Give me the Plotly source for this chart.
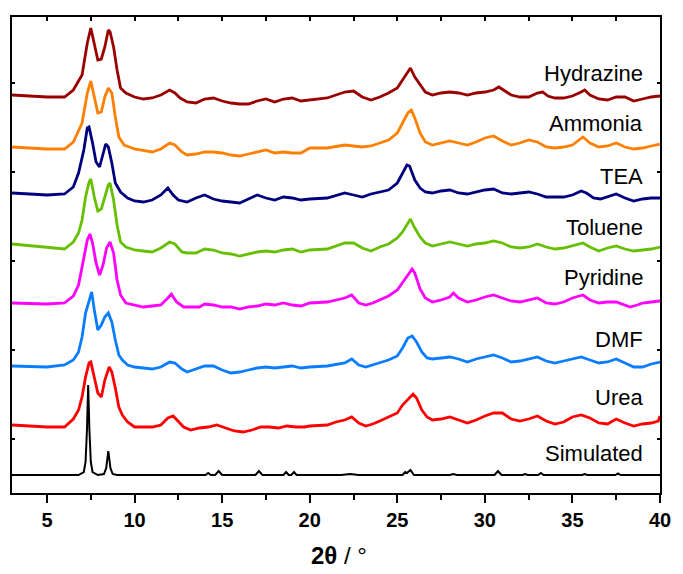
import plotly.graph_objects as go

# ---------------- data (2θ in degrees, intensity in a.u.) ----------------
hyd_x = [3, 4, 5, 6, 6.5, 7, 7.3, 7.5, 7.7, 7.9, 8.1, 8.3, 8.5, 8.6, 8.8, 9.0, 9.2, 9.5, 10, 10.5,
         11, 11.5, 12, 12.3, 12.6, 13, 13.5, 14, 14.5, 15, 15.5, 16, 16.5, 17, 17.5, 18, 18.5, 19, 19.5, 20,
         21, 22, 22.5, 23, 23.5, 24, 24.5, 25, 25.3, 25.6, 25.75, 26, 26.3, 26.6, 27, 27.5, 28, 28.5, 29, 29.5,
         30, 30.5, 30.8, 31.2, 31.5, 32, 32.5, 33, 33.3, 33.6, 34, 34.5, 35, 35.5, 35.7, 36, 36.5, 37, 37.5, 38,
         38.5, 39, 39.5, 40]
hyd_y = [25, 24, 23, 23, 30, 45, 77, 92, 77, 60, 61, 73, 90, 88, 73, 50, 32, 27, 23, 21,
         22, 25, 30, 27, 22, 18, 17, 21, 22, 19, 17, 16, 16, 19, 21, 18, 21, 22, 19, 20,
         22, 28, 29, 23, 20, 23, 27, 32, 40, 47, 52, 43, 35, 28, 25, 27, 28, 27, 25, 27,
         28, 30, 33, 28, 25, 23, 23, 27, 28, 24, 22, 22, 24, 28, 30, 25, 21, 20, 23, 23,
         19, 21, 23, 24]

amm_x = [3, 5, 6, 6.5, 7, 7.3, 7.5, 7.7, 7.9, 8.1, 8.3, 8.5, 8.7, 8.9, 9.1, 9.4, 10, 11, 11.5, 12,
         12.3, 12.7, 13, 13.5, 14, 14.5, 15, 15.5, 16, 16.5, 17, 17.5, 18, 18.5, 19, 19.5, 20, 21, 22, 23,
         23.5, 24, 24.5, 25, 25.3, 25.6, 25.8, 26, 26.3, 26.6, 27, 27.5, 28, 28.5, 29, 29.5, 30, 30.5, 31, 31.5,
         32, 32.5, 33, 33.5, 34, 34.5, 35, 35.6, 36, 36.5, 37, 37.5, 38, 38.5, 39, 39.5, 40]
amm_y = [23, 21, 21, 28, 47, 77, 89, 73, 57, 58, 73, 82, 77, 53, 33, 25, 21, 18, 21, 27,
         25, 18, 15, 16, 18, 18, 17, 15, 14, 16, 18, 20, 17, 18, 17, 17, 22, 22, 25, 23,
         24, 27, 30, 37, 47, 57, 60, 52, 37, 28, 25, 27, 29, 27, 25, 28, 32, 34, 29, 25,
         27, 30, 28, 23, 22, 23, 25, 33, 27, 23, 24, 27, 23, 21, 22, 24, 26]

tea_x = [3, 5, 6, 6.5, 6.8, 7.1, 7.3, 7.4, 7.6, 7.8, 8.0, 8.2, 8.35, 8.5, 8.7, 8.9, 9.2, 9.6, 10, 10.5,
         11, 11.5, 11.9, 12.2, 12.5, 13, 13.5, 14, 14.5, 15, 15.5, 16, 16.5, 17, 17.5, 18, 18.5, 19, 19.5, 20,
         21, 22, 22.5, 23, 23.5, 24, 24.5, 25, 25.3, 25.55, 25.7, 26, 26.3, 26.6, 27, 27.5, 28, 28.5, 29, 29.5,
         30, 30.5, 31, 31.5, 32, 32.5, 33, 33.5, 34, 34.5, 35, 35.5, 35.8, 36.2, 36.6, 37, 37.5, 38, 38.5, 39,
         39.5, 40]
tea_y = [27, 25, 26, 33, 47, 70, 92, 93, 77, 58, 53, 67, 76, 73, 57, 37, 28, 22, 19, 18,
         20, 25, 32, 25, 20, 18, 22, 25, 21, 19, 18, 17, 21, 25, 22, 20, 23, 22, 20, 21,
         22, 27, 25, 23, 26, 28, 30, 37, 47, 55, 54, 40, 32, 28, 27, 29, 30, 27, 26, 28,
         30, 31, 27, 26, 27, 28, 26, 23, 23, 23, 25, 29, 27, 22, 21, 23, 26, 22, 19, 21,
         22, 22]

tol_x = [3, 5, 6, 6.5, 6.8, 7.0, 7.2, 7.4, 7.5, 7.7, 7.9, 8.1, 8.3, 8.5, 8.6, 8.8, 9.0, 9.2, 9.5, 10,
         10.5, 11, 11.5, 12, 12.3, 12.7, 13, 13.5, 14, 14.5, 15, 15.5, 16, 16.5, 17, 17.5, 18, 18.5, 19, 19.5,
         20, 21, 22, 22.5, 23, 23.5, 24, 24.5, 25, 25.3, 25.6, 25.75, 26, 26.3, 26.6, 27, 27.5, 28, 28.5, 29,
         29.5, 30, 30.5, 31, 31.5, 32, 32.5, 33, 33.5, 34, 34.5, 35, 35.6, 36, 36.5, 37, 37.5, 38, 38.5, 39,
         39.5, 40]
tol_y = [26, 23, 21, 28, 37, 50, 73, 88, 91, 73, 59, 61, 73, 85, 87, 70, 45, 28, 23, 20,
         19, 18, 22, 28, 26, 18, 17, 17, 21, 20, 17, 16, 14, 16, 18, 19, 18, 20, 21, 18,
         20, 21, 27, 27, 22, 19, 23, 26, 32, 38, 47, 51, 42, 33, 27, 24, 26, 28, 26, 24,
         26, 27, 29, 27, 23, 22, 23, 26, 23, 21, 22, 24, 27, 23, 19, 22, 24, 21, 19, 20,
         21, 23]

pyr_x = [3, 5, 6, 6.5, 6.8, 7.1, 7.3, 7.45, 7.6, 7.8, 8.0, 8.2, 8.4, 8.6, 8.8, 9.0, 9.2, 9.5, 10, 10.5,
         11, 11.5, 11.9, 12.1, 12.4, 12.8, 13.2, 13.7, 14, 14.5, 15, 15.5, 16, 16.5, 17, 17.5, 18, 18.5, 19, 19.5,
         20, 21, 22, 22.4, 22.8, 23.2, 23.6, 24, 24.5, 25, 25.3, 25.6, 25.85, 26, 26.3, 26.6, 27, 27.5, 28, 28.2,
         28.5, 29, 29.5, 30, 30.5, 31, 31.5, 32, 32.5, 33, 33.5, 34, 34.5, 35, 35.6, 36, 36.5, 37, 37.5, 38,
         38.3, 38.7, 39, 39.5, 40]
pyr_y = [17, 16, 17, 24, 35, 63, 80, 86, 77, 57, 45, 55, 72, 78, 67, 40, 25, 17, 15, 13,
         14, 15, 22, 26, 18, 13, 13, 13, 16, 15, 13, 13, 11, 13, 14, 16, 15, 17, 15, 14,
         17, 18, 22, 25, 17, 15, 17, 20, 24, 30, 37, 44, 51, 47, 31, 22, 18, 20, 23, 27,
         22, 18, 20, 23, 25, 22, 19, 18, 20, 22, 17, 16, 18, 22, 25, 20, 17, 18, 18, 15,
         13, 15, 17, 18, 19]

dmf_x = [3, 5, 6, 6.5, 6.8, 7.0, 7.2, 7.4, 7.55, 7.7, 7.9, 8.1, 8.3, 8.5, 8.7, 8.9, 9.1, 9.3, 9.6, 10,
         10.5, 11, 11.5, 12, 12.3, 12.7, 13, 13.5, 14, 14.5, 15, 15.5, 16, 16.5, 17, 17.5, 18, 18.5, 19, 19.5,
         20, 21, 22, 22.4, 22.8, 23.2, 23.6, 24, 24.5, 25, 25.3, 25.6, 25.85, 26.1, 26.4, 26.7, 27, 27.5, 28, 28.5,
         29, 29.5, 30, 30.5, 31, 31.5, 32, 32.5, 33, 33.5, 34, 34.5, 35, 35.5, 36, 36.5, 37, 37.5, 38, 38.5,
         39, 39.5, 40]
dmf_y = [14, 13, 15, 20, 28, 43, 67, 80, 88, 70, 50, 55, 63, 67, 58, 40, 25, 20, 15, 13,
         12, 11, 13, 18, 17, 11, 8, 11, 14, 14, 10, 7, 8, 10, 12, 13, 12, 13, 14, 12,
         13, 14, 17, 21, 15, 13, 15, 17, 20, 24, 32, 42, 44, 38, 28, 22, 21, 22, 23, 21,
         18, 21, 23, 25, 22, 18, 19, 21, 23, 19, 17, 19, 21, 23, 20, 17, 18, 21, 17, 13,
         13, 16, 18]

urea_x = [3, 5, 6, 6.5, 6.8, 7.0, 7.2, 7.4, 7.5, 7.7, 7.9, 8.1, 8.3, 8.55, 8.7, 8.9, 9.1, 9.3, 9.6, 10,
          10.5, 11, 11.5, 11.9, 12.2, 12.5, 12.8, 13.2, 13.7, 14.2, 14.7, 15.2, 15.7, 16.2, 16.7, 17.2, 17.7, 18.2, 18.7, 19.2,
          19.7, 20, 21, 21.5, 22, 22.4, 22.8, 23.2, 23.6, 24, 24.5, 25, 25.3, 25.6, 25.9, 26.1, 26.4, 26.7, 27, 27.5,
          28, 28.5, 29, 29.5, 30, 30.5, 31, 31.5, 32, 32.5, 33, 33.5, 34, 34.5, 35, 35.5, 36, 36.5, 37, 37.5,
          38, 38.5, 39, 39.5, 39.9, 40]
urea_y = [15, 13, 13, 21, 30, 43, 63, 77, 78, 63, 47, 43, 60, 73, 68, 52, 33, 25, 18, 13,
          13, 13, 15, 22, 24, 19, 13, 10, 12, 13, 15, 12, 9, 8, 10, 13, 13, 12, 14, 13,
          13, 14, 15, 18, 20, 23, 17, 14, 16, 19, 23, 27, 35, 41, 46, 42, 30, 23, 20, 21,
          23, 20, 17, 20, 24, 27, 27, 21, 19, 21, 24, 19, 16, 18, 23, 25, 22, 17, 16, 21,
          17, 14, 16, 17, 19, 24]

sim_x = [3, 6.8, 7.1, 7.2, 7.28, 7.35, 7.42, 7.5, 7.6, 7.9, 8.25, 8.38, 8.45, 8.5, 8.55, 8.62, 8.75, 9.0,
         14.05, 14.2, 14.35, 14.6, 14.8, 15.0, 16.9, 17.1, 17.3, 18.5, 18.65, 18.8, 18.95, 19.1, 19.25,
         21.8, 22.3, 22.8, 25.3, 25.45, 25.55, 25.75, 25.95, 28.0, 28.2, 28.4, 30.55, 30.75, 30.95,
         32.15, 32.3, 32.45, 33.05, 33.2, 33.35, 35.55, 35.7, 35.85, 37.45, 37.6, 37.75, 40]
sim_y = [0, 0, 3, 13, 45, 90, 45, 13, 3, 0, 1, 7, 17, 24, 17, 7, 1, 0,
         0, 2, 0, 0, 4, 0, 0, 4, 0, 0, 3, 0, 0, 3, 0,
         0, 1, 0, 0, 3, 2, 5, 0, 0, 1, 0, 0, 4, 0,
         0, 1, 0, 0, 2, 0, 0, 1, 0, 0, 1.5, 0, 0]

names = ["Simulated", "Urea", "DMF", "Pyridine", "Toluene", "TEA", "Ammonia", "Hydrazine"]
xs = [sim_x, urea_x, dmf_x, pyr_x, tol_x, tea_x, amm_x, hyd_x]
ys = [sim_y, urea_y, dmf_y, pyr_y, tol_y, tea_y, amm_y, hyd_y]
offsets = [18, 53, 113, 173, 223, 273, 323, 373]          # vertical stacking offsets
colors = ["#000000", "#FF0000", "#0A7DFF", "#FF00FF", "#66BF00", "#00007F", "#FF8000", "#990000"]
widths = [2, 2.8, 2.8, 2.8, 2.8, 2.8, 2.8, 2.8]
label_y = [40, 96, 154, 216, 266, 317, 370, 420]
xticks = [5, 10, 15, 20, 25, 30, 35, 40]

fig = go.Figure()
for n, x, y, off, c, w in zip(names, xs, ys, offsets, colors, widths):
    fig.add_trace(go.Scatter(x=x, y=[v + off for v in y], mode="lines", name=n,
                             line=dict(color=c, width=w), showlegend=False, hoverinfo="skip"))

for n, ly in zip(names, label_y):
    fig.add_annotation(x=39.15, y=ly, xref="x", yref="y", text=n, showarrow=False,
                       xanchor="right", yanchor="middle",
                       font=dict(family="Liberation Sans", size=22, color="black"))

fig.add_annotation(x=0.505, y=-0.132, xref="paper", yref="paper", text="<b>2θ</b> / °",
                   showarrow=False, xanchor="center", yanchor="middle",
                   font=dict(family="Liberation Sans", size=24, color="black"))

fig.update_layout(
    width=683, height=574,
    margin=dict(l=12, r=14, t=17, b=81),
    paper_bgcolor="white", plot_bgcolor="white",
    xaxis=dict(range=[3, 40], tickvals=xticks, ticks="outside", ticklen=8, tickwidth=2,
               tickcolor="black", showline=True, linewidth=2, linecolor="black", mirror=True,
               showgrid=False, zeroline=False,
               tickfont=dict(family="Liberation Sans", size=20, color="black", weight="bold"),
               minor=dict(dtick=2.5, tick0=0, ticks="outside", ticklen=5, tickwidth=2, tickcolor="black")),
    xaxis2=dict(range=[3, 40], overlaying="x", side="top", dtick=2.5, tick0=0, ticks="inside",
                ticklen=4, tickwidth=1.5, tickcolor="black", showticklabels=False,
                showgrid=False, zeroline=False, showline=False),
    yaxis=dict(range=[0, 476], tickvals=[54, 143, 232, 321, 410], ticks="inside", ticklen=3,
               tickwidth=1.5, tickcolor="black", showticklabels=False, showline=True, linewidth=2,
               linecolor="black", mirror="ticks", showgrid=False, zeroline=False),
)
fig.add_trace(go.Scatter(x=[3, 40], y=[None, None], xaxis="x2", mode="lines",
                         showlegend=False, hoverinfo="skip"))

fig.write_html("out.html")
